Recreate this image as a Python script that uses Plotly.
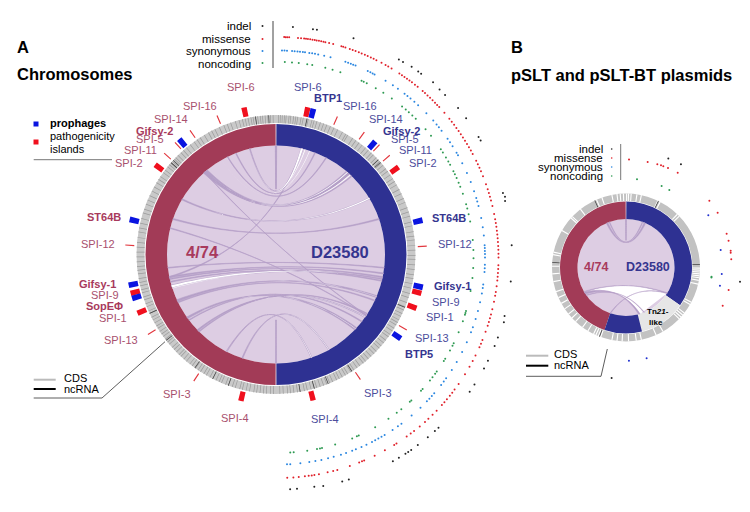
import math
import plotly.graph_objects as go

W, H = 750, 512

# ---------- values (angles in degrees, clockwise from 12 o'clock) ----------
SEGMENTS_A = ["D23580", "4/74"]
SEGMENT_THETA_A = [90, 270]
SEGMENT_SPAN_A = [180, 180]

PROPHAGE_THETA_A = [14.4, 41.3, 76.8, 102.6, 124, 258.2, 253, 320, 283.5]
ISLAND_THETA_A = [12.2, 54.5, 105, 111, 165.7, 347.7, 306.6, 255, 247, 193.5]
SPI_TICK_THETA_A = [24, 35.8, 43.3, 48.9, 86.8, 120, 146, 337, 325.3, 318, 312.2, 273.6, 238, 213]

RIGHT_LABELS = ["SPI-6", "SPI-16", "SPI-14", "SPI-5", "SPI-11", "SPI-2", "SPI-12", "SPI-9", "SPI-1", "SPI-13", "SPI-3", "SPI-4"]
RIGHT_BOLD = ["BTP1", "Gifsy-2", "ST64B", "Gifsy-1", "BTP5"]
LEFT_LABELS = ["SPI-6", "SPI-16", "SPI-14", "SPI-5", "SPI-11", "SPI-2", "SPI-12", "SPI-9", "SPI-1", "SPI-13", "SPI-3", "SPI-4"]
LEFT_BOLD = ["Gifsy-2", "ST64B", "Gifsy-1", "SopEΦ"]

CDS_TICKS_A = [1, 1.8, 2.6, 3.5, 4.2, 5.4, 6.1, 7.3, 8.2, 9, 10.4, 11.3, 12.8, 13.4, 15, 15.9, 17.1, 18.6, 20,
               21.4, 23, 24.6, 26.3, 28.5, 30.1, 31, 33.4, 35, 36.6, 38.2, 40, 41.5, 43.2, 44.3, 46, 47.2, 48.1,
               49, 50.2, 52, 53.3, 55.1, 57, 58.4, 60, 62.2, 64.1, 66.3, 68, 70.4, 72.2, 74, 76.5, 78.1, 80.6,
               82.4, 84, 86.3, 88.2, 90.5, 92, 94.3, 96.2, 98.4, 100, 102.1, 104, 106.3, 108, 110.2, 112, 113.5,
               115.1, 116.4, 118, 119.2, 120.4, 122, 123.3, 125, 126.2, 128, 129.4, 131, 132.2, 134, 135.3, 137,
               138.5, 140, 141.2, 143, 144.4, 146, 147.5, 149, 150.1, 151.6, 153, 154.2, 156, 157.3, 158.6, 160,
               161.5, 163, 164.1, 165.4, 167, 168.2, 170, 171.1, 172.6, 174, 175.2, 177, 178.4,
               181, 182.3, 184, 185.2, 186.6, 188, 189.2, 191, 192.4, 194, 195.1, 197, 198.3, 200, 201.2, 203,
               204.1, 205.5, 207, 208.3, 210, 211.2, 212.8, 214, 215.3, 217, 218.2, 220, 221.4, 223, 224.1, 225.6,
               227, 228.2, 230, 231.1, 232.6, 234, 235.2, 236.5, 238, 239.1, 240.6, 242, 243.2, 245, 246.1, 248,
               249.3, 251, 252.2, 254, 255.3, 257, 258.4, 260, 262, 263.5, 265, 267, 269, 271, 273, 275, 277, 279.3,
               281, 283, 285, 287.4, 289, 291.2, 293, 295, 297.1, 299, 301, 302.6, 304, 306, 307.3, 309, 310.1, 311,
               312, 313.2, 314, 315.3, 317, 318.4, 320, 322, 324, 325.5, 327, 329, 331, 332.5, 334, 336, 338, 339.5,
               341, 343, 344.6, 346, 347.2, 348.4, 349.6, 350.5, 351.6, 352.4, 353.5, 354.4, 355.5, 356.6, 357.7, 358.8]
NCRNA_TICKS_A = [12.9, 48.6, 47.2, 112.3, 147, 158, 164, 170, 200, 207, 215.6, 232, 245, 312.5, 311.2, 351.5, 357]

INDEL_THETA_A = [3.7, 8.7, 9.7, 19, 31.4, 32.6, 35, 37, 37.9, 41.5, 43.9, 45.8, 50.3, 53.5, 59, 60, 74, 75, 76, 87,
                 95.9, 104.5, 106, 110, 112.2, 116.2, 118.3, 122.9, 125, 136.7, 137.9, 140.2, 143.3, 145.3, 146.2,
                 147, 148.9, 150.6, 162.3, 164, 168.8, 171, 175.3, 177]
INDEL_R_A = [231, 231, 231, 232, 232, 232, 233, 233, 233, 234, 233, 233, 234, 234, 234, 234, 234, 235, 234, 234,
             234, 234, 235, 234, 234, 234, 234, 234, 234, 234, 234, 234, 234, 234, 234, 234, 234, 234, 233, 233,
             233, 232, 232, 232]
MISSENSE_THETA_A = [1.6, 2, 2.4, 2.9, 5.2, 6, 6.8, 7.3, 7.8, 8.4, 9, 9.6, 10.1, 10.7, 11.3, 11.9, 12.4, 13.4, 14.5,
                    16.7, 17.2, 17.8, 19, 19.8, 20.6, 21.5, 22.3, 23.2, 24, 24.9, 25.7, 26.5, 28, 29.2, 30, 31,
                    33.4, 34.2, 35, 35.8, 36.6, 37.4, 38.4, 39.3, 41, 41.8, 42.7, 43.6, 44.5, 45.4, 46.2, 47, 49,
                    51, 52, 53, 54, 55, 56, 57, 58, 59, 60, 61, 62, 64, 65, 66, 67, 68.4, 70.6, 72, 73, 74, 75, 76.5,
                    78.6, 80, 81, 82, 83, 84, 85, 86, 87, 88, 89, 90, 92, 93, 94, 95, 96, 97.5, 99, 100, 101.6, 103.6,
                    105, 106, 107, 108, 109.7, 112, 113, 114, 116.4, 118, 119.7, 122, 125, 126.8, 127.8, 128.8, 130,
                    131, 132, 134, 135.5, 137, 138.2, 140, 141.9, 143, 144.3, 147.5, 148.2, 151, 154, 157, 157.6,
                    158.4, 161, 164.4, 165.5, 167, 169.3, 170.5, 171.2, 172, 173, 174.6, 176, 177.6]
SYNONYMOUS_THETA_A = [1.1, 1.8, 2.5, 3.9, 4.6, 5.4, 6.1, 6.9, 7.5, 8.7, 9.5, 10.3, 11.2, 12.9, 14.7, 19, 19.8, 20.6,
                      21.3, 22, 25.7, 26.5, 27.2, 27.8, 31.3, 33.7, 35.4, 37.7, 38.7, 39.8, 41.2, 42.6, 45.8, 48.6,
                      50, 51, 52.2, 55, 56.2, 57.5, 59.6, 60.4, 62.9, 65.9, 68.6, 71.3, 73.3, 74.3, 75.6, 79, 81.6,
                      83.9, 86.6, 87.4, 88.2, 89, 90, 92, 93, 94, 97.5, 98.5, 100, 102.5, 105, 107.3, 109.7, 111.2,
                      114.2, 117.2, 120.3, 122.9, 125.7, 126.8, 128, 131, 132, 133, 134, 136.5, 139.8, 143.4, 144.6,
                      146.4, 149, 150, 151, 152, 153, 154.7, 156.2, 157.9, 159, 160.8, 162.3, 164.4, 166, 167.9,
                      169.6, 171.3, 173.8, 176.6, 177.5]
NONCODING_THETA_A = [2, 4.1, 6.1, 8.6, 10.1, 14, 16.2, 18.6, 25.3, 26, 27, 30, 32.6, 35.6, 39.4, 40.8, 42, 43.4, 44.8,
                     49, 51.5, 56.4, 57.5, 59.2, 60.6, 61.7, 63.8, 64.8, 66, 67.5, 68.8, 71, 74.2, 75.5, 77.2, 79.4,
                     84.9, 87.8, 90.2, 93.1, 96, 99.9, 105.9, 106.5, 107, 109, 112.5, 116, 116.8, 118.4, 121.2, 122,
                     125.7, 126.5, 127.8, 129, 132.3, 133, 137, 137.6, 140.9, 142.6, 145.6, 150.2, 155.6, 156.2, 157.7,
                     163, 167, 167.6, 168.5, 171.4, 175.4, 176.4]

# chords: left end, width at left end, right end, width at right end
CHORD_LEFT = [359.8, 346.1, 338.4, 333.6, 319.6, 319, 300.4, 289, 284, 319, 258, 263, 258, 257, 255.5, 253, 245, 244, 234.5, 233, 226, 225, 207, 198, 180]
CHORD_LEFT_W = [0.3, 0.4, 0.4, 0.4, 2.6, 0.4, 0.6, 0.6, 0.4, 0.3, 0.6, 0.4, 0.7, 0.6, 0.5, 1.4, 1, 0.5, 1, 0.4, 0.7, 0.5, 0.5, 0.5, 0.3]
CHORD_RIGHT = [0.2, 13.8, 21, 27.4, 41.5, 44, 59, 71, 124, 124, 14, 97, 100, 102, 104, 103, 112.7, 115, 133, 128, 125, 123, 161, 151, 180]
CHORD_RIGHT_W = [0.3, 1, 0.4, 0.4, 2.6, 0.4, 0.6, 0.6, 0.4, 0.3, 0.6, 0.4, 0.5, 0.6, 0.5, 0.5, 1, 0.5, 1.6, 0.5, 0.6, 0.5, 0.5, 0.5, 0.3]

WHITE_LEFT = [346, 333, 330, 320, 319, 300.4, 253, 252, 245, 234, 225, 207, 198]
WHITE_LEFT_W = [0.02, 0.02, 0.02, 0.02, 0.02, 0.02, 1.2, 0.3, 0.02, 0.02, 0.02, 0.02, 0.02]
WHITE_RIGHT = [13.8, 15.5, 18, 41, 43, 59, 103, 102, 112.7, 133, 125, 161, 151]
WHITE_RIGHT_W = [1.1, 0.4, 0.3, 0.5, 0.5, 0.6, 0.02, 0.02, 0.1, 0.2, 0.2, 0.3, 0.3]

# plasmids
PLASMID_LABELS = ["4/74", "D23580"]
SEG_B_THETA = [279.5, 62.5, 146, 182.5]
SEG_B_SPAN = [161, 125, 42, 33]
CDS_GAPS_B = [353, 355.5, 358, 0.5, 2, 4, 8.5, 12, 25.5, 27.5, 44, 46, 90.5, 92, 93.5, 95, 96.5, 98, 100, 103, 118, 120,
              128, 130, 132, 134, 150, 156, 168, 172, 178, 183, 187, 191, 200, 202, 204, 206, 211, 216, 223, 227, 231,
              236, 241, 246, 251, 259, 265, 271, 280, 282, 300, 312, 313.5, 322, 336.5, 341, 349]
DARK_TICKS_B = [26, 87.5, 274, 335, 201]
INDEL_THETA_B = [21.2, 28, 97.1, 187.4]
INDEL_R_B = [117, 117, 114.9, 111.4]
MISSENSE_THETA_B = [1.6, 11.6, 16.9, 18.9, 20.2, 22.9, 28.6, 51.3, 59.1, 71.4, 75.4, 80.9, 82, 85.5, 102.4, 111.6]
MISSENSE_R_B = [108, 107.7, 107.8, 108, 108, 108, 108, 106.8, 106.8, 106.2, 106, 106, 105.7, 105.6, 105.1, 104]
SYNONYMOUS_THETA_B = [57.6, 79.5, 93.9, 101, 167.2, 178.2]
SYNONYMOUS_R_B = [97.5, 96.3, 96, 95.7, 93, 93.2]
NONCODING_THETA_B = [7.1, 23.6, 29.2, 96.1, 96.6]
NONCODING_R_B = [89, 89, 88.8, 86, 86]

CHORD_B_TOP_LEFT = [359.7, 337, 340]
CHORD_B_TOP_LEFT_W = [0.5, 2, 1]
CHORD_B_TOP_RIGHT = [0.3, 23, 20]
CHORD_B_TOP_RIGHT_W = [0.5, 2, 1]
CHORD_B_LOW_LEFT = [238, 235, 199, 240]
CHORD_B_LOW_LEFT_W = [2.5, 0.8, 0.8, 0.8]
CHORD_B_LOW_RIGHT = [164, 158, 122, 122]
CHORD_B_LOW_RIGHT_W = [2, 0.8, 0.8, 1]

LEGEND_SNP = ["indel", "missense", "synonymous", "noncoding"]
SNP_COLORS = ["#222222", "#E0202A", "#2A86E0", "#2E9A52"]

# ---------- styles ----------
RED_RING, BLUE_RING = "#A23B57", "#2E3192"
LAVENDER, CHORD = "#DDCDE3", "#B5A0C8"
RED_TXT, BLUE_TXT = "#A8506E", "#4C4C9C"
RED_B, BLUE_B = "#A83A5C", "#35358F"
FONT = "Liberation Sans"


def bezier_ribbon(a, aw, b, bw, R, k=0.2, n=30):
    """Polar outline (theta, r) of a ribbon between two arcs of a circle of radius R."""
    def pt(t):
        return (R * math.sin(math.radians(t)), R * math.cos(math.radians(t)))

    def curve(t0, t1):
        p0, p1 = pt(t0), pt(t1)
        c = (k * (p0[0] + p1[0]) / 2, k * (p0[1] + p1[1]) / 2)
        out = []
        for i in range(n + 1):
            s = i / n
            out.append(((1 - s) ** 2 * p0[0] + 2 * s * (1 - s) * c[0] + s * s * p1[0],
                        (1 - s) ** 2 * p0[1] + 2 * s * (1 - s) * c[1] + s * s * p1[1]))
        return out
    xy = curve(a - aw / 2, b - bw / 2) + curve(b + bw / 2, a + aw / 2)
    theta = [math.degrees(math.atan2(x, y)) for x, y in xy]
    r = [math.hypot(x, y) for x, y in xy]
    return theta + theta[:1], r + r[:1]


fig = go.Figure()


def bars(sub, theta, base, height, width, color):
    n = len(theta)
    fig.add_trace(go.Barpolar(subplot=sub, theta=theta, base=[base] * n, r=[height] * n,
                              width=width if isinstance(width, list) else [width] * n,
                              marker=dict(color=color, line=dict(width=0)), hoverinfo="skip"))


def ribbons(sub, left, lw, right, rw, R, color, k=0.2, line=0.6):
    for a, aw, b, bw in zip(left, lw, right, rw):
        t, r = bezier_ribbon(a, aw, b, bw, R, k)
        fig.add_trace(go.Scatterpolar(subplot=sub, theta=t, r=r, mode="lines", fill="toself", fillcolor=color,
                                      line=dict(color=color, width=line), hoverinfo="skip"))


def dots(sub, theta, r, color, size=2):
    if not isinstance(r, list):
        r = [r] * len(theta)
    fig.add_trace(go.Scatterpolar(subplot=sub, theta=theta, r=r, mode="markers",
                                  marker=dict(color=color, size=size, line=dict(width=0)), hoverinfo="skip"))


# ---------- panel A ----------
bars("polar", [180], 0, 109, 360, LAVENDER)
bars("polar", SEGMENT_THETA_A, 109, 21.5, SEGMENT_SPAN_A, [BLUE_RING, RED_RING])
bars("polar", [0, 180], 109, 21.5, 0.4, "#E9DFEA")
bars("polar", [180], 131.5, 8, 360, "#C9C9C9")
bars("polar", CDS_TICKS_A, 131.5, 8, 0.3, "#9C9C9C")
bars("polar", NCRNA_TICKS_A, 131.5, 8, 0.3, "#444444")
ribbons("polar", CHORD_LEFT, CHORD_LEFT_W, CHORD_RIGHT, CHORD_RIGHT_W, 109, CHORD)
ribbons("polar", WHITE_LEFT, WHITE_LEFT_W, WHITE_RIGHT, WHITE_RIGHT_W, 109, "#FFFFFF", line=0)
bars("polar", SPI_TICK_THETA_A, 142, 9, 0.45, "#E2383F")
bars("polar", ISLAND_THETA_A, 141, 9.5, 2.1, "#F0101E")
bars("polar", PROPHAGE_THETA_A, 141, 9.5, 2.2, "#0A14E0")

dots("polar2", INDEL_THETA_A, INDEL_R_A, SNP_COLORS[0])
dots("polar2", MISSENSE_THETA_A, 220.5, SNP_COLORS[1])
dots("polar2", SYNONYMOUS_THETA_A, 207, SNP_COLORS[2])
dots("polar2", NONCODING_THETA_A, 195.5, SNP_COLORS[3])

# ---------- panel B ----------
bars("polar3", [180], 0, 48.5, 360, LAVENDER)
bars("polar3", SEG_B_THETA, 48.5, 17.5, SEG_B_SPAN, [RED_RING, BLUE_RING, "#E6E6E6", BLUE_RING])
bars("polar3", [0], 48.5, 17.5, 0.7, "#E9DFEA")
bars("polar3", [180], 66.5, 7.5, 360, "#C2C2C2")
bars("polar3", CDS_GAPS_B, 66.5, 7.5, 0.9, "#FFFFFF")
bars("polar3", DARK_TICKS_B, 66.5, 7.5, 0.6, "#444444")
ribbons("polar3", [240], [0.5], [142.5], [41], 48.5, "#FFFFFF", k=0.45, line=0)
ribbons("polar3", CHORD_B_TOP_LEFT, CHORD_B_TOP_LEFT_W, CHORD_B_TOP_RIGHT, CHORD_B_TOP_RIGHT_W, 48.5, CHORD, k=0.12, line=0.4)
ribbons("polar3", CHORD_B_LOW_LEFT, CHORD_B_LOW_LEFT_W, CHORD_B_LOW_RIGHT, CHORD_B_LOW_RIGHT_W, 48.5, CHORD, k=0.45, line=0.4)
dots("polar3", INDEL_THETA_B, INDEL_R_B, SNP_COLORS[0])
dots("polar3", MISSENSE_THETA_B, MISSENSE_R_B, SNP_COLORS[1])
dots("polar3", SYNONYMOUS_THETA_B, SYNONYMOUS_R_B, "#2030D0")
dots("polar3", NONCODING_THETA_B, NONCODING_R_B, SNP_COLORS[3])


def polar_layout(cx, cy, R):
    return dict(domain=dict(x=[(cx - R) / W, (cx + R) / W], y=[1 - (cy + R) / H, 1 - (cy - R) / H]),
                bgcolor="rgba(0,0,0,0)",
                radialaxis=dict(visible=False, range=[0, R]),
                angularaxis=dict(visible=False, rotation=90, direction="clockwise"))


# ---------- text ----------
ann = []


def text(x, y, s, size=11, color="#000000", anchor="center"):
    ann.append(dict(x=x / W, y=1 - y / H, xref="paper", yref="paper", text=s, showarrow=False, xanchor=anchor,
                    yanchor="middle", align="center", borderpad=0, font=dict(family=FONT, size=size, color=color)))


LEFT_POS = [(241, 87), (200.5, 106), (170.7, 119), (150, 139), (140.8, 150), (129, 162.7), (98, 244), (105, 295),
            (113, 317.7), (121, 340), (177, 394), (235, 418)]
RIGHT_POS = [(308, 87), (360, 106), (385.7, 118.7), (405, 139), (415.8, 150), (423, 162.7), (455, 244), (446, 301.7),
             (440, 316.7), (432.3, 338), (378, 393), (325.3, 419)]
LEFT_BOLD_POS = [(154.7, 130.7), (104, 217), (98, 284), (104, 305.7)]
RIGHT_BOLD_POS = [(328, 98), (401.3, 131), (449.3, 217.7), (452.3, 286), (419.3, 354)]
for s, p in zip(LEFT_LABELS, LEFT_POS):
    text(p[0], p[1], s, 11, RED_TXT)
for s, p in zip(RIGHT_LABELS, RIGHT_POS):
    text(p[0], p[1], s, 11, BLUE_TXT)
for s, p in zip(LEFT_BOLD, LEFT_BOLD_POS):
    text(p[0], p[1], f"<b>{s}</b>", 11, RED_B)
for s, p in zip(RIGHT_BOLD, RIGHT_BOLD_POS):
    text(p[0], p[1], f"<b>{s}</b>", 11, BLUE_B)

text(16, 47, "<b>A</b>", 16.5, anchor="left")
text(16, 74, "<b>Chromosomes</b>", 16.5, anchor="left")
text(510, 46.5, "<b>B</b>", 16.5, anchor="left")
text(510, 75, "<b>pSLT and pSLT-BT plasmids</b>", 16.5, anchor="left")
text(202.5, 252, f"<b>{SEGMENTS_A[1]}</b>", 16.5, RED_B)
text(339.5, 252, f"<b>{SEGMENTS_A[0]}</b>", 16.5, BLUE_B)
text(596.3, 267.3, f"<b>{PLASMID_LABELS[0]}</b>", 12.5, RED_B)
text(647.5, 267.3, f"<b>{PLASMID_LABELS[1]}</b>", 12.5, BLUE_B)
text(658.3, 311.7, "<b>Tn<i>21</i>-</b>", 8)
text(656, 322, "<b>like</b>", 8)

text(49.3, 122.7, "<b>prophages</b>", 11, anchor="left")
text(49.3, 135.7, "pathogenicity", 11, anchor="left")
text(49.3, 148.7, "islands", 11, anchor="left")
text(63.3, 378, "CDS", 11, anchor="left")
text(63.3, 389, "ncRNA", 11, anchor="left")
text(552.7, 354, "CDS", 11, anchor="left")
text(552.7, 365, "ncRNA", 11, anchor="left")

for s, y in zip(LEGEND_SNP, [26, 38.5, 51, 63.5]):
    text(252, y, s, 11.5, anchor="right")
for s, y in zip(LEGEND_SNP, [149.3, 158, 167.3, 176]):
    text(603.7, y, s, 11.5, anchor="right")

# ---------- legend furniture ----------
shapes = []


def seg(x0, y0, x1, y1, color, width):
    shapes.append(dict(type="line", xref="paper", yref="paper", x0=x0 / W, x1=x1 / W, y0=1 - y0 / H, y1=1 - y1 / H,
                       line=dict(color=color, width=width)))


def box(cx, cy, half, color, kind="rect"):
    shapes.append(dict(type=kind, xref="paper", yref="paper", x0=(cx - half) / W, x1=(cx + half) / W,
                       y0=1 - (cy + half) / H, y1=1 - (cy - half) / H, fillcolor=color, line=dict(width=0)))


seg(33.7, 159.7, 112, 159.7, "#777777", 1)
box(36, 124, 2.5, "#0A14E0")
box(36, 142, 2.5, "#F0101E")
seg(33.7, 379.7, 55.7, 379.7, "#BBBBBB", 2)
seg(33.7, 389, 55.7, 389, "#000000", 2)
seg(33.7, 398, 102, 398, "#333333", 0.8)
seg(102, 398, 165, 341.7, "#333333", 0.8)
seg(526, 355.7, 548.3, 355.7, "#BBBBBB", 2)
seg(526, 365.7, 548.3, 365.7, "#000000", 2)
seg(526, 376.3, 601, 376.3, "#333333", 0.8)
seg(601, 376.3, 607.3, 349, "#333333", 0.8)
seg(273, 21, 273, 68, "#444444", 1)
seg(620.7, 144, 620.7, 180, "#777777", 1)
for c, y in zip(SNP_COLORS, [26, 39, 51, 63]):
    box(262.5, y, 1, c, "circle")
for c, y in zip(SNP_COLORS, [149, 158, 167, 176]):
    box(611.7, y, 0.8, c, "circle")

fig.update_layout(width=W, height=H, autosize=False, showlegend=False, margin=dict(l=0, r=0, t=0, b=0, pad=0),
                  paper_bgcolor="white", plot_bgcolor="white",
                  polar=polar_layout(276, 254.5, 250), polar2=polar_layout(278, 257.5, 250),
                  polar3=polar_layout(626, 267.5, 124),
                  annotations=ann, shapes=shapes, font=dict(family=FONT))
fig.write_html("out.html", config=dict(displayModeBar=False), post_script="document.body.style.margin='0';")
